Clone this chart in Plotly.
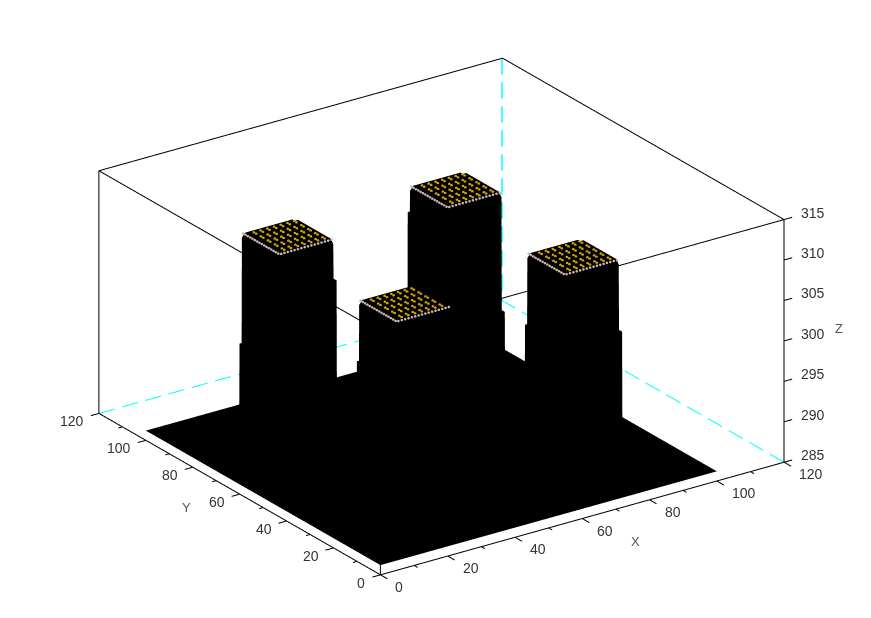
import plotly.graph_objects as go

# ---- data ----
axis_min_xy, axis_max_xy = 0, 120
axis_min_z, axis_max_z = 285, 315
x_ticks = [0, 20, 40, 60, 80, 100, 120]
y_ticks = [0, 20, 40, 60, 80, 100, 120]
z_ticks = [285, 290, 295, 300, 305, 310, 315]
xy_minor = [10, 30, 50, 70, 90, 110]

floor_z = 286.2
top_z = 311.7
grid_x = [0, 15.9, 16, 17, 31, 32, 32.1, 33, 33.1, 65.9, 66, 67, 81, 82, 82.1, 83, 83.1, 100]
grid_y = [0, 15.9, 16, 17, 31, 32, 32.1, 33, 33.1, 65.9, 66, 67, 81, 82, 82.1, 83, 83.1, 100]
# 0 = floor, 1 = plateau, -1 = the one-cell shoulder on the far side of a pillar
profile = [0, 0, 1, 1, 1, 1, -1, -1, 0, 0, 1, 1, 1, 1, -1, -1, 0, 0]
# shoulder height per pillar, indexed [y pillar][x pillar]
shoulder_x = [[0.70, 0.65], [0.80, 0.42]]
shoulder_y = [[0.70, 0.65], [0.46, 0.87]]
pillar_low = [16, 66]
pillar_high = [32, 82]
corner_drop = 0.5
dot_u = [2.5, 4.5, 6.5, 8.5, 10.5, 12.5, 14.5]
dot_v = [1.5, 2.5, 4.5, 5.5, 7.5, 8.5, 10.5, 11.5, 13.5, 14.5]
rim_steps = [0.5, 1.5, 2.5, 3.5, 4.5, 5.5, 6.5, 7.5, 8.5, 9.5, 10.5, 11.5, 12.5, 13.5, 14.5, 15.5]

TXT = "#333333"
FONT = "Liberation Sans"

# ---- surface ----
Z = []
for j, py in enumerate(profile):
    row = []
    r = 0 if grid_y[j] < 50 else 1
    for i, px in enumerate(profile):
        q = 0 if grid_x[i] < 50 else 1
        lx = shoulder_x[r][q] if px == -1 else px
        ly = shoulder_y[r][q] if py == -1 else py
        row.append(floor_z + (top_z - floor_z) * lx * ly)
    Z.append(row)
for xa in pillar_low + pillar_high:
    for ya in pillar_low + pillar_high:
        Z[grid_y.index(ya)][grid_x.index(xa)] -= corner_drop

fig = go.Figure()
fig.add_trace(go.Surface(
    x=grid_x, y=grid_y, z=Z, colorscale=[[0, "black"], [1, "black"]], showscale=False,
    hoverinfo="skip",
    lighting=dict(ambient=1, diffuse=0, specular=0, roughness=1, fresnel=0),
))

def add_lines(xs, ys, zs, color="black", width=2):
    fig.add_trace(go.Scatter3d(x=xs, y=ys, z=zs, mode="lines", hoverinfo="skip", showlegend=False,
                               line=dict(color=color, width=width)))

x0, x1, z0, z1 = axis_min_xy, axis_max_xy, axis_min_z, axis_max_z
n = None
# solid box edges
bx = [x0, x1, n, x0, x0, n, x0, x1, x1, x0, x0, n, x1, x1, n, x0, x0, n, x0, x0]
by = [x0, x0, n, x0, x1, n, x1, x1, x0, x0, x1, n, x0, x0, n, x0, x0, n, x1, x1]
bz = [z0, z0, n, z0, z0, n, z1, z1, z1, z1, z1, n, z0, z1, n, z0, z1, n, z0, z1]
add_lines(bx, by, bz)

# dashed back edges
def dashes(p, q, period):
    xs, ys, zs = [], [], []
    L = 1.0
    t = 0.0
    while t < L:
        e = min(t + period * 0.68, L)
        for s in (t, e):
            xs.append(p[0] + (q[0] - p[0]) * s)
            ys.append(p[1] + (q[1] - p[1]) * s)
            zs.append(p[2] + (q[2] - p[2]) * s)
        xs.append(None); ys.append(None); zs.append(None)
        t += period
    return xs, ys, zs

for p, q, per, w in [((x0, x1, z0), (x1, x1, z0), 0.0575, 2),
                     ((x1, x0, z0), (x1, x1, z0), 0.0735, 2),
                     ((x1 - 0.1, x1 + 0.1, z1), (x1 - 0.1, x1 + 0.1, z0), 0.099, 3)]:
    dx, dy, dz = dashes(p, q, per)
    add_lines(dx, dy, dz, color="#00ffff", width=w)

# ticks
tx, ty, tz = [], [], []
for v in x_ticks:
    tx += [v, v, n]; ty += [0, -3, n]; tz += [z0, z0, n]
for v in xy_minor:
    tx += [v, v, n]; ty += [0, -1.5, n]; tz += [z0, z0, n]
for v in y_ticks:
    tx += [0, -2.4, n]; ty += [v, v, n]; tz += [z0, z0, n]
for v in xy_minor:
    tx += [0, -1.2, n]; ty += [v, v, n]; tz += [z0, z0, n]
for v in z_ticks:
    tx += [x1, x1 + 2.4, n]; ty += [0, 0, n]; tz += [v, v, n]
add_lines(tx, ty, tz)

# plateau texture
dx, dy, dz, rx, ry, rz = [], [], [], [], [], []
for a in pillar_low:
    for b in pillar_low:
        for u in dot_u:
            for v in dot_v:
                dx.append(a + u); dy.append(b + v); dz.append(top_z + 0.1)
        for s in rim_steps:
            rx += [a + s, a]; ry += [b, b + s]; rz += [top_z + 0.1, top_z + 0.1]
fig.add_trace(go.Scatter3d(x=dx, y=dy, z=dz, mode="markers", hoverinfo="skip",
                           marker=dict(size=1.6, color="#cfa400", line=dict(width=0))))
fig.add_trace(go.Scatter3d(x=rx, y=ry, z=rz, mode="markers", hoverinfo="skip",
                           marker=dict(size=1.5, color="#cdb8b0", line=dict(width=0))))

# tick labels as real text in the scene
ann = []
def label(x, y, z, text, xs, ys, anchor, size=14, color=TXT):
    ann.append(dict(x=x, y=y, z=z, text=text, showarrow=False, xshift=xs, yshift=ys, xanchor=anchor,
                    yanchor="middle", font=dict(family=FONT, size=size, color=color)))
for v in x_ticks:
    label(v, 0, z0, str(v), 13, -12, "left")
for v in y_ticks:
    label(0, v, z0, str(v), -13, -8, "right")
for v in z_ticks:
    label(x1, 0, v, str(v), 15, 7, "left")
label(60, 0, z0, "X", 53, -23, "center", 13, "#555555")
label(0, 60, z0, "Y", -53, -13, "center", 13, "#555555")
label(x1, 0, 300, "Z", 55, 12, "center", 13, "#555555")

hidden = dict(visible=False)
zoom = 1.741
fig.update_layout(
    width=871, height=618, margin=dict(l=0, r=0, t=0, b=0), paper_bgcolor="white", showlegend=False,
    scene=dict(
        domain=dict(x=[12 / 871, 1], y=[0, 1 - 15 / 618]),
        xaxis=dict(range=[-4, 124], **hidden),
        yaxis=dict(range=[-4, 124], **hidden),
        zaxis=dict(range=[284, 316], **hidden),
        aspectmode="manual", aspectratio=dict(x=zoom, y=zoom, z=0.538 * zoom),
        camera=dict(projection=dict(type="orthographic"),
                    up=dict(x=0, y=0, z=1), center=dict(x=0, y=0, z=0),
                    eye=dict(x=-0.5245 * 2.5, y=-0.752 * 2.5, z=0.40 * 2.5)),
        annotations=ann,
        bgcolor="white",
    ),
)
fig.write_html("out.html", config=dict(displayModeBar=False),
               post_script="document.body.style.margin='0';document.body.style.overflow='hidden';")
